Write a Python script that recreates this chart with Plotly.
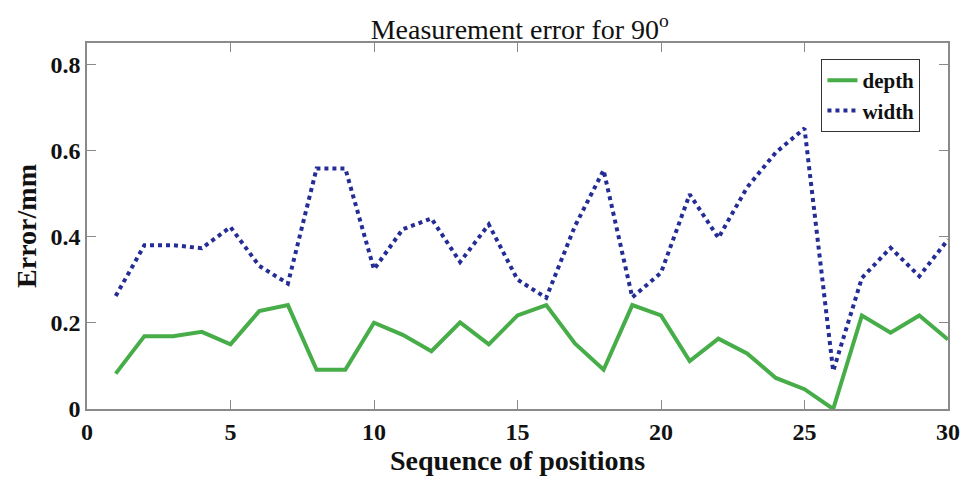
import plotly.graph_objects as go

positions = list(range(1, 31))
depth = [0.082, 0.169, 0.169, 0.179, 0.150, 0.227, 0.241, 0.091, 0.091, 0.200,
         0.172, 0.134, 0.201, 0.150, 0.217, 0.241, 0.152, 0.091, 0.241, 0.217,
         0.111, 0.163, 0.129, 0.072, 0.046, 0.000, 0.217, 0.177, 0.217, 0.161]
width = [0.262, 0.380, 0.380, 0.373, 0.422, 0.332, 0.291, 0.558, 0.558, 0.324,
         0.417, 0.442, 0.341, 0.428, 0.300, 0.258, 0.424, 0.554, 0.259, 0.316,
         0.498, 0.397, 0.514, 0.595, 0.651, 0.088, 0.304, 0.374, 0.308, 0.393]
x_ticks = [0, 5, 10, 15, 20, 25, 30]
y_ticks = [0, 0.2, 0.4, 0.6, 0.8]
y_tick_text = ["0", "0.2", "0.4", "0.6", "0.8"]

SERIF = "Liberation Serif, Times New Roman, serif"

fig = go.Figure()
fig.add_trace(go.Scatter(x=positions, y=depth, mode="lines", name="depth",
                         line=dict(color="#46ad48", width=4)))
fig.add_trace(go.Scatter(x=positions, y=width, mode="lines", name="width",
                         line=dict(color="#242c96", width=4, dash="dot")))

axis_common = dict(showline=True, linecolor="#8a8a8a", linewidth=1.5, mirror="ticks",
                   ticks="inside", ticklen=9, tickwidth=1, tickcolor="#8a8a8a",
                   showgrid=False, zeroline=False, automargin=False,
                   tickfont=dict(family=SERIF, size=24, color="#111", weight="bold"))

W, H = 962, 470
fig.update_layout(
    width=W, height=H,
    margin=dict(l=78.5, r=21.5, t=35, b=68.5),
    paper_bgcolor="white", plot_bgcolor="white",
    title=dict(text="Measurement error for 90<sup>o</sup>", x=0.532, xanchor="center",
               yref="container", y=1 - 21 / H, yanchor="middle",
               font=dict(family=SERIF, size=28, color="#111")),
    xaxis=dict(range=[0, 30], tickvals=x_ticks, ticktext=[str(v) for v in x_ticks],
               title=dict(text="Sequence of positions", standoff=0,
                          font=dict(family=SERIF, size=28, color="#111", weight="bold")),
               **axis_common),
    yaxis=dict(range=[0, 0.849], tickvals=y_ticks, ticktext=y_tick_text,
               title=dict(text="Error/mm", standoff=6,
                          font=dict(family=SERIF, size=28, color="#111", weight="bold")),
               **axis_common),
    legend=dict(x=0.968, xanchor="right", y=0.956, yanchor="top",
                bordercolor="#333", borderwidth=1, bgcolor="white",
                font=dict(family=SERIF, size=21, color="#111", weight="bold"),
                tracegroupgap=0, itemwidth=30),
    showlegend=True,
)

fig.write_html("out.html")
